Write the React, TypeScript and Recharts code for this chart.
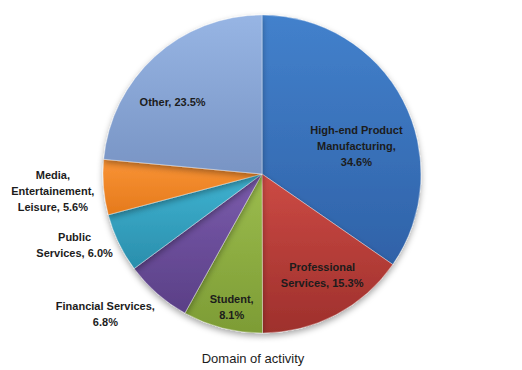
import { PieChart, Pie, Cell } from 'recharts';

const categories = [
  'High-end Product Manufacturing',
  'Professional Services',
  'Student',
  'Financial Services',
  'Public Services',
  'Media, Entertainement, Leisure',
  'Other',
];
const shares = [34.6, 15.3, 8.1, 6.8, 6.0, 5.6, 23.5];
const colors = [
  ['#4381cc', '#2f62a8'],
  ['#cc4a44', '#9e302c'],
  ['#9cbd4e', '#7d9c35'],
  ['#7b5cad', '#5a3f86'],
  ['#3fb3d1', '#2a8eac'],
  ['#f99335', '#e57a1c'],
  ['#97b5e4', '#7894c4'],
];

const chartData = categories.map((name, i) => ({ name, value: shares[i] }));

// label placement: radius factor and angle nudge (deg) from the slice middle, plus line breaks
const labelLayout: Record<string, { r: number; da: number; lines: (v: string) => string[] }> = {
  'High-end Product Manufacturing': { r: 0.62, da: -11, lines: (v) => ['High-end Product', 'Manufacturing,', v] },
  'Professional Services': { r: 0.74, da: 3, lines: (v) => ['Professional', `Services, ${v}`] },
  Student: { r: 0.86, da: 1.6, lines: (v) => ['Student,', v] },
  'Financial Services': { r: 1.32, da: -7, lines: (v) => ['Financial Services,', v] },
  'Public Services': { r: 1.26, da: -5, lines: (v) => ['Public', `Services, ${v}`] },
  'Media, Entertainement, Leisure': { r: 1.32, da: 0, lines: (v) => ['Media,', 'Entertainement,', `Leisure, ${v}`] },
  Other: { r: 0.72, da: 9, lines: (v) => [`Other, ${v}`] },
};

const RAD = Math.PI / 180;

function renderLabel(props: any) {
  const { cx, cy, midAngle, outerRadius, name, value } = props;
  const lay = labelLayout[name];
  const a = (midAngle + lay.da) * RAD;
  const x = cx + outerRadius * lay.r * Math.cos(a);
  const y = cy - outerRadius * lay.r * Math.sin(a);
  const lines = lay.lines(`${Number(value).toFixed(1)}%`);
  const lh = 16;
  const y0 = y - ((lines.length - 1) * lh) / 2;
  return (
    <text
      x={x}
      y={y0}
      textAnchor="middle"
      dominantBaseline="central"
      fill="#1c1c1c"
      fontFamily="'Liberation Sans', Arial, sans-serif"
      fontWeight="bold"
      fontSize={11}
    >
      {lines.map((l, i) => (
        <tspan key={i} x={x} y={y0 + i * lh}>
          {l}
        </tspan>
      ))}
    </text>
  );
}

export default function App() {
  return (
    <div style={{ position: 'absolute', left: 0, top: 0, width: 522, height: 370, background: '#fff' }}>
      <PieChart width={522} height={370} margin={{ top: 0, right: 0, bottom: 0, left: 0 }}>
        <defs>
          {colors.map(([c1, c2], i) => (
            <linearGradient key={i} id={`g${i}`} x1="0" y1="0" x2="0" y2="1">
              <stop offset="0%" stopColor={c1} />
              <stop offset="100%" stopColor={c2} />
            </linearGradient>
          ))}
          <filter id="shadow" x="-10%" y="-10%" width="120%" height="125%">
            <feDropShadow dx="0" dy="3" stdDeviation="3" floodColor="#000" floodOpacity="0.35" />
          </filter>
        </defs>
        <Pie
          data={chartData}
          dataKey="value"
          nameKey="name"
          cx={262}
          cy={174}
          outerRadius={159}
          startAngle={90}
          endAngle={-270}
          stroke="rgba(255,255,255,0.35)"
          strokeWidth={1}
          label={renderLabel}
          labelLine={false}
          isAnimationActive={false}
          style={{ filter: 'url(#shadow)' }}
        >
          {chartData.map((entry, index) => (
            <Cell key={`cell-${index}`} fill={`url(#g${index})`} />
          ))}
        </Pie>
      </PieChart>
      <div
        style={{
          position: 'absolute',
          left: 0,
          width: 506,
          top: 351,
          textAlign: 'center',
          fontFamily: "'Liberation Sans', Arial, sans-serif",
          fontSize: 13,
          color: '#1c1c1c',
        }}
      >
        Domain of activity
      </div>
    </div>
  );
}
